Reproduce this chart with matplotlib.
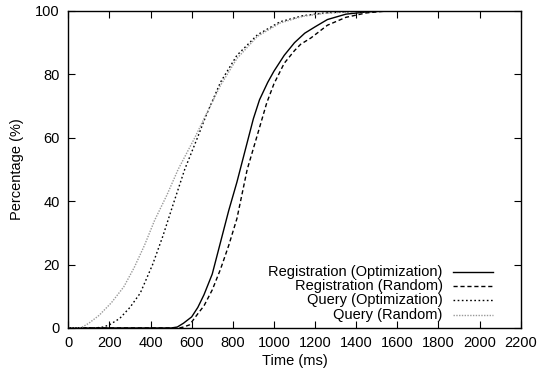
import numpy as np
import matplotlib.pyplot as plt
from matplotlib.lines import Line2D

plt.rcParams['font.family'] = ['Liberation Sans', 'DejaVu Sans']

# Registration (Optimization)
reg_opt_t = [0, 500, 530, 560, 600, 630, 660, 700, 740, 780, 820, 860, 900, 930,
             970, 1000, 1050, 1100, 1150, 1200, 1260, 1350, 1450, 1550, 2100]
reg_opt_y = [0, 0, 0.3, 1.5, 3.5, 6.5, 10.5, 17, 27, 37, 46, 56, 66, 72,
             77.5, 81, 86, 90, 93, 95, 97.3, 99, 99.7, 100, 100]

# Registration (Random)
reg_rnd_t = [0, 540, 560, 590, 630, 660, 700, 740, 780, 820, 870, 920, 965, 1000,
             1050, 1100, 1130, 1180, 1260, 1350, 1450, 1550, 2100]
reg_rnd_y = [0, 0, 0.3, 1, 4.5, 7, 12, 18.5, 26, 34.5, 50, 61, 71, 77,
             83.5, 87.5, 89.5, 91.5, 95.5, 98, 99.4, 100, 100]

# Query (Optimization)
qry_opt_t = [0, 130, 170, 200, 250, 300, 350, 410, 460, 510, 566, 628, 670, 740,
             820, 920, 1030, 1140, 1250, 1400, 1550, 2100]
qry_opt_y = [0, 0, 0.3, 1, 3, 6.5, 11, 20, 29, 39, 50, 60, 67, 77.5,
             86, 92.5, 96.6, 98.5, 99.4, 99.9, 100, 100]

# Query (Random)
qry_rnd_t = [0, 60, 100, 150, 210, 270, 320, 370, 420, 480, 534, 615, 660, 740,
             820, 920, 1030, 1140, 1250, 1400, 1550, 2100]
qry_rnd_y = [0, 0, 1.5, 4, 8, 13, 19, 26, 34, 42, 50, 60, 66, 76.5,
             85, 92, 96.2, 98.3, 99.3, 99.8, 100, 100]

labels = ["Registration (Optimization)", "Registration (Random)",
          "Query (Optimization)", "Query (Random)"]

fig = plt.figure(figsize=(5.39, 3.79), dpi=100)
ax = fig.add_axes([0.1267, 0.1346, 0.8393, 0.8364])

estilos = [dict(color='black', ls='-', lw=1.0),
           dict(color='black', ls=(0, (3, 2)), lw=1.0),
           dict(color='black', ls=(0, (1.2, 1.8)), lw=1.0),
           dict(color='#999999', ls=(0, (1, 1)), lw=1.0)]
series = [(reg_opt_t, reg_opt_y), (reg_rnd_t, reg_rnd_y),
          (qry_opt_t, qry_opt_y), (qry_rnd_t, qry_rnd_y)]

for (t, y), st in zip(series, estilos):
    ax.plot(t, y, **st)

ax.set_xlim(0, 2200)
ax.set_ylim(0, 100)
ax.set_xticks(np.arange(0, 2201, 200))
ax.set_yticks(np.arange(0, 101, 20))
ax.tick_params(direction='in', top=True, right=True, length=5, width=0.8,
               labelsize=10.5, pad=6)
for s in ax.spines.values():
    s.set_linewidth(1.0)
ax.set_xlabel("Time (ms)", fontsize=10.5, labelpad=3)
ax.set_ylabel("Percentage (%)", fontsize=10.5, labelpad=8)

# leyenda estilo gnuplot (texto alineado a la derecha)
filas = [0.178, 0.1325, 0.0868, 0.041]
for lab, st, yy in zip(labels, estilos, filas):
    ax.text(0.8276, yy, lab, transform=ax.transAxes, ha='right', va='center',
            fontsize=10.5)
    ax.add_line(Line2D([0.8497, 0.9394], [yy, yy], transform=ax.transAxes, **st))

fig.savefig("out.png", dpi=100)
